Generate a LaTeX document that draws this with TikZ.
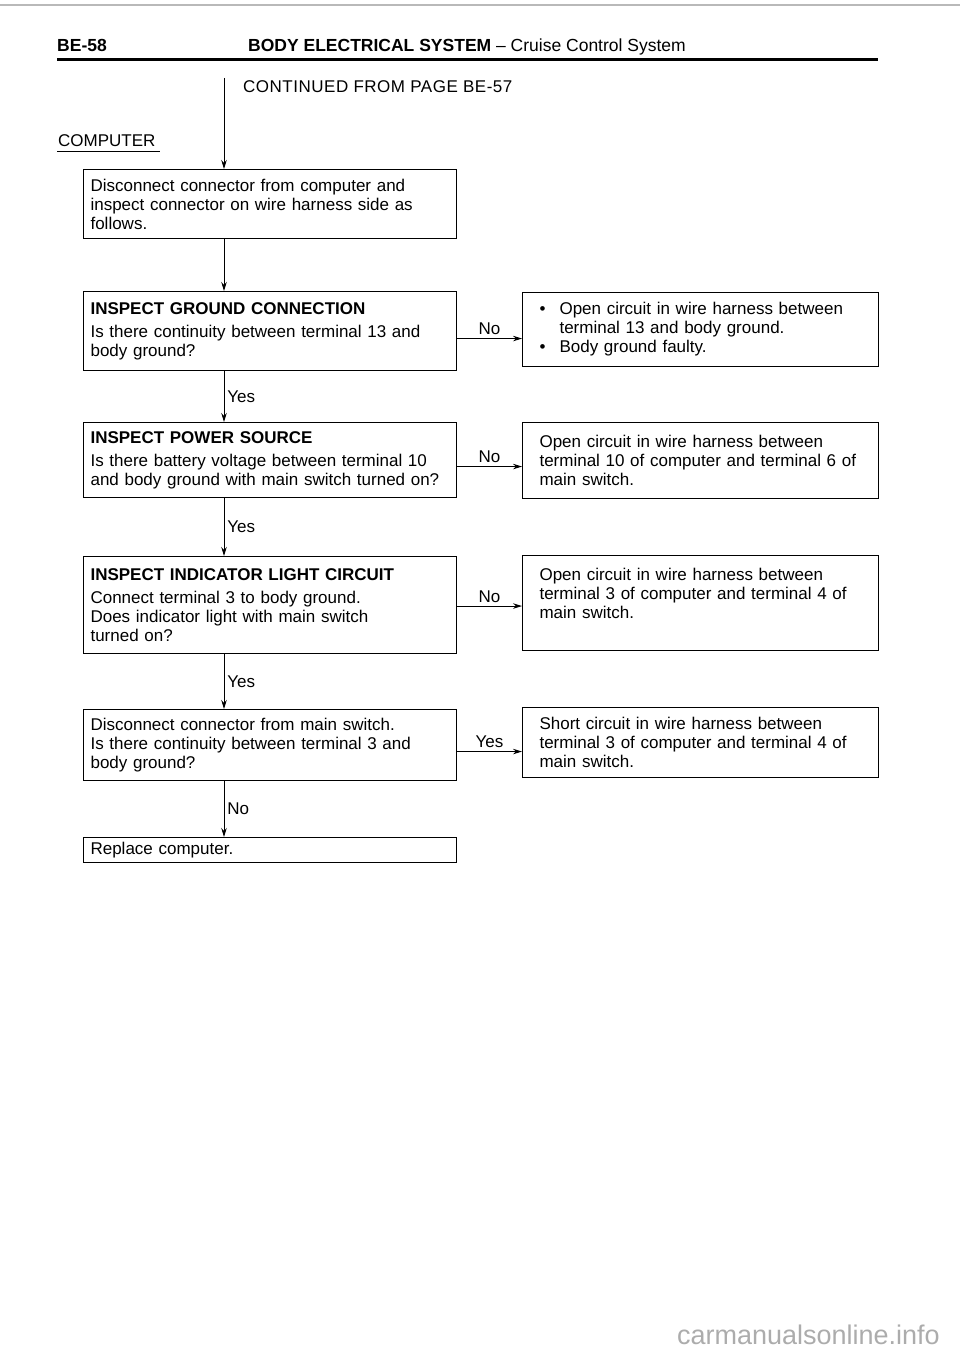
\documentclass[tikz,border=0pt]{standalone}
\usepackage{fontspec}
\setmainfont{Liberation Sans}
\usetikzlibrary{arrows.meta}

\begin{document}
\begin{tikzpicture}[x=1pt,y=-1pt]
		\tikzstyle{TestBox} = [rectangle, anchor=north west, draw=black, line width=1.1pt, text width=359pt, inner xsep=7pt, inner ysep=3pt, align=left, font=\fontsize{17}{19}\selectfont]
		\tikzstyle{CauseBox} = [TestBox, text width=322pt, inner xsep=17pt]
		\tikzstyle{Label} = [font=\fontsize{17}{19}\selectfont, inner sep=3pt]
		\tikzstyle{flow} = [line width=0.9pt, -{Stealth[length=9pt,width=5.5pt]}]
		
		\useasboundingbox (0,0) rectangle (960,1356);
		
		\draw [gray!55, line width=1.2pt] (0,5) -- (960,5);
		\node (pageno) [anchor=base west, inner sep=0pt, font=\fontsize{17.5}{19}\selectfont\bfseries] at (57,52) {BE-58};
		\node (title) [anchor=base west, inner sep=0pt, font=\fontsize{17.5}{19}\selectfont] at (248,52) {\textbf{BODY ELECTRICAL SYSTEM} -- Cruise Control System};
		\draw [line width=3pt] (57,60) -- (878,60);
		
		\node (cont) [anchor=base west, inner sep=0pt, font=\fontsize{17}{19}\selectfont\addfontfeature{LetterSpace=3}] at (243,93) {CONTINUED FROM PAGE BE-57};
		\node (comp) [anchor=base west, inner sep=0pt, font=\fontsize{17}{19}\selectfont] at (58,147) {COMPUTER};
		\draw [line width=0.8pt] ([xshift=-1pt,yshift=-4pt]comp.base west) -- ([xshift=4pt,yshift=-4pt]comp.base east);
		\coordinate (spine) at (224,78);
		
		\node (q0) [TestBox, minimum height=69pt] at (83,169) {Disconnect connector from computer and\\ inspect connector on wire harness side as\\ follows.};
		\node (q1) [TestBox, minimum height=79pt] at (83,291) {\textbf{INSPECT GROUND CONNECTION}\\[4pt] Is there continuity between terminal 13 and\\ body ground?};
		\node (q2) [TestBox, minimum height=75pt] at (83,422) {\textbf{INSPECT POWER SOURCE}\\[4pt] Is there battery voltage between terminal 10\\ and body ground with main switch turned on?};
		\node (q3) [TestBox, minimum height=97pt] at (83,556) {\textbf{INSPECT INDICATOR LIGHT CIRCUIT}\\[4pt] Connect terminal 3 to body ground.\\ Does indicator light with main switch\\ turned on?};
		\node (q4) [TestBox, minimum height=71pt] at (83,709) {Disconnect connector from main switch.\\ Is there continuity between terminal 3 and\\ body ground?};
		\node (q5) [TestBox, minimum height=25pt] at (83,837) {Replace computer.};
		
		\node (r1) [CauseBox, minimum height=74pt] at (522,292) {\makebox[20pt][l]{\textbullet}Open circuit in wire harness between\\ \hspace*{20pt}terminal 13 and body ground.\\ \makebox[20pt][l]{\textbullet}Body ground faulty.};
		\node (r2) [CauseBox, minimum height=76pt] at (522,422) {Open circuit in wire harness between\\ terminal 10 of computer and terminal 6 of\\ main switch.};
		\node (r3) [CauseBox, minimum height=95pt] at (522,555) {Open circuit in wire harness between\\ terminal 3 of computer and terminal 4 of\\ main switch.\\ \mbox{}};
		\node (r4) [CauseBox, minimum height=70pt] at (522,707) {Short circuit in wire harness between\\ terminal 3 of computer and terminal 4 of\\ main switch.};
		
		\draw [flow] (spine) -- (q0.north -| spine);
		\draw [flow] (q0.south -| spine) -- (q1.north -| spine);
		\draw [flow] (q1.south -| spine) -- node[Label, right] {Yes} (q2.north -| spine);
		\draw [flow] (q2.south -| spine) -- node[Label, right] {Yes} (q3.north -| spine);
		\draw [flow] (q3.south -| spine) -- node[Label, right] {Yes} (q4.north -| spine);
		\draw [flow] (q4.south -| spine) -- node[Label, right] {No} (q5.north -| spine);
		
		\draw [flow] ([yshift=-9pt]r1.west -| q1.east) -- node[Label, above] {No} ([yshift=-9pt]r1.west);
		\draw [flow] ([yshift=-6pt]r2.west -| q2.east) -- node[Label, above] {No} ([yshift=-6pt]r2.west);
		\draw [flow] ([yshift=-3pt]r3.west -| q3.east) -- node[Label, above] {No} ([yshift=-3pt]r3.west);
		\draw [flow] ([yshift=-9pt]r4.west -| q4.east) -- node[Label, above] {Yes} ([yshift=-9pt]r4.west);
		
		\node (wm) [anchor=base east, inner sep=0pt, text=gray!65, font=\fontsize{27}{27}\selectfont] at (940,1344) {carmanualsonline.info};
		\end{tikzpicture}
\end{document}
